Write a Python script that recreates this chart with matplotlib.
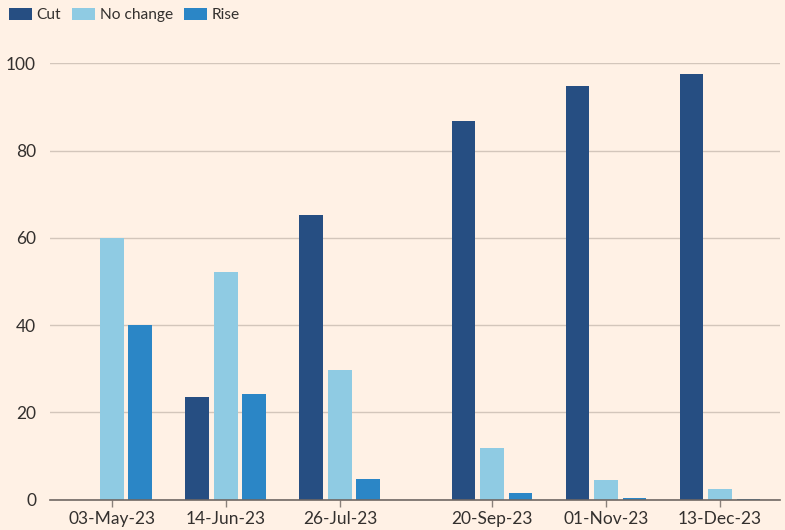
import matplotlib
matplotlib.use("Agg")
import matplotlib.pyplot as plt
import matplotlib.dates as mdates
from matplotlib.patches import Patch
import datetime as dt
import numpy as np

dates = ["2023-05-03", "2023-06-14", "2023-07-26", "2023-09-20", "2023-11-01", "2023-12-13"]
tick_labels = ["03-May-23", "14-Jun-23", "26-Jul-23", "20-Sep-23", "01-Nov-23", "13-Dec-23"]
series_names = ["Cut", "No change", "Rise"]
cut = [0, 23.5, 65.2, 86.8, 94.9, 97.6]
no_change = [60.0, 52.1, 29.7, 11.7, 4.5, 2.3]
rise = [40.0, 24.3, 4.8, 1.4, 0.4, 0.1]

colors = ["#264e82", "#8fcbe3", "#2b86c6"]
bg = "#fff1e5"
text_color = "#33302e"

plt.rcParams['font.family'] = ['Lato', 'DejaVu Sans']

fig = plt.figure(figsize=(7.85, 5.3), dpi=100, facecolor=bg)
ax = fig.add_axes([50/785, 30.5/530, 730/785, 436/530], facecolor=bg)

x = mdates.date2num([dt.datetime.strptime(d, "%Y-%m-%d") for d in dates])
offset = 10.5
width = 8.8
for vals, off, c in zip([cut, no_change, rise], [-offset, 0, offset], colors):
    ax.bar(x + off, vals, width=width, color=c, zorder=3)

ax.set_ylim(0, 100)
ax.set_xlim(x[0] - 22.8, x[-1] + 22.1)
ax.set_yticks([0, 20, 40, 60, 80, 100])
ax.set_xticks(x)
ax.set_xticklabels(tick_labels)

ax.grid(axis='y', color='#d3c6bb', linewidth=1, zorder=1)
for s in ['top', 'right', 'left']:
    ax.spines[s].set_visible(False)
ax.spines['bottom'].set_color('#6f6763')
ax.spines['bottom'].set_linewidth(1.2)
ax.spines['bottom'].set_zorder(4)

ax.tick_params(axis='y', length=0, pad=10, labelsize=12.5, labelcolor=text_color)
ax.tick_params(axis='x', length=5, color='#8a817b', width=1, pad=3,
               labelsize=12.5, labelcolor=text_color)

handles = [Patch(facecolor=c, label=n) for c, n in zip(colors, series_names)]
fig.legend(handles=handles, loc='upper left', bbox_to_anchor=(-0.003, 1.006), ncol=3,
           frameon=False, fontsize=11.2, handlelength=1.5, handleheight=0.8,
           handletextpad=0.3, columnspacing=0.7, labelcolor=text_color,
           borderaxespad=0.3)

fig.savefig("out.png", dpi=100, facecolor=bg)
